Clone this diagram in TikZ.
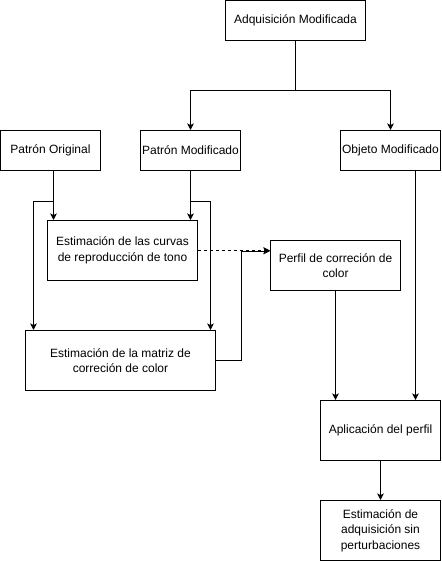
\documentclass[tikz,border=0pt]{standalone}
\usepackage{fontspec}
\setmainfont{Liberation Sans}
\usetikzlibrary{arrows.meta}
\begin{document}
\begin{tikzpicture}[x=1pt,y=-1pt,
  box/.style={draw, line width=1pt, fill=white, inner sep=0pt, align=center,
    font=\fontsize{12pt}{15.5pt}\selectfont},
  conn/.style={line width=1pt, -{Stealth[length=6.5pt,width=6.5pt,inset=1.5pt]}}]
\useasboundingbox (0,0) rectangle (441,561);
\node[box, minimum width=140pt, minimum height=40pt] (adq) at (295.5,20.5) {Adquisición Modificada};
\node[box, minimum width=100pt, minimum height=40pt] (po) at (50.5,150.5) {Patrón Original};
\node[box, minimum width=100pt, minimum height=40pt] (pm) at (190.5,150.5) {Patrón Modificado};
\node[box, minimum width=100pt, minimum height=40pt] (om) at (390.5,150.5) {Objeto Modificado};
\node[box, minimum width=150pt, minimum height=60pt] (cur) at (122.5,250.5) {Estimación de las curvas\\de reproducción de tono};
\node[box, minimum width=130pt, minimum height=50pt] (per) at (335.5,265.5) {Perfil de correción de\\color};
\node[box, minimum width=190pt, minimum height=60pt] (mat) at (120.5,360.5) {Estimación de la matriz de\\correción de color};
\node[box, minimum width=120pt, minimum height=60pt] (apl) at (380.5,430.5) {Aplicación del perfil};
\node[box, minimum width=120pt, minimum height=60pt] (est) at (380.5,530.5) {Estimación de\\adquisición sin\\perturbaciones};

\draw[conn] (adq.south) -- ++(0,50) -| (pm.north);
\draw[conn] (adq.south) -- ++(0,50) -| (om.north);
\draw[conn] ([xshift=3pt]po.south) -- ([xshift=-69pt]cur.north);
\draw[conn] ([xshift=3pt]po.south) -- ++(0,30) -- ++(-20,0) -- ([xshift=-87pt]mat.north);
\draw[conn] (pm.south) -- (pm.south |- cur.north);
\draw[conn] (pm.south) -- ++(0,30) -- ++(20,0) -- ([xshift=90pt]mat.north);
\draw[conn, dash pattern=on 3pt off 3pt] (cur.east) -- (cur.east -| per.west);
\draw[conn] (mat.east) -- ++(25,0) |- ([yshift=14.5pt]per.west);
\draw[conn] (per.south) -- (per.south |- apl.north);
\draw[conn] ([xshift=25pt]om.south) -- ([xshift=35pt]apl.north);
\draw[conn] (apl.south) -- (est.north);
\end{tikzpicture}
\end{document}
